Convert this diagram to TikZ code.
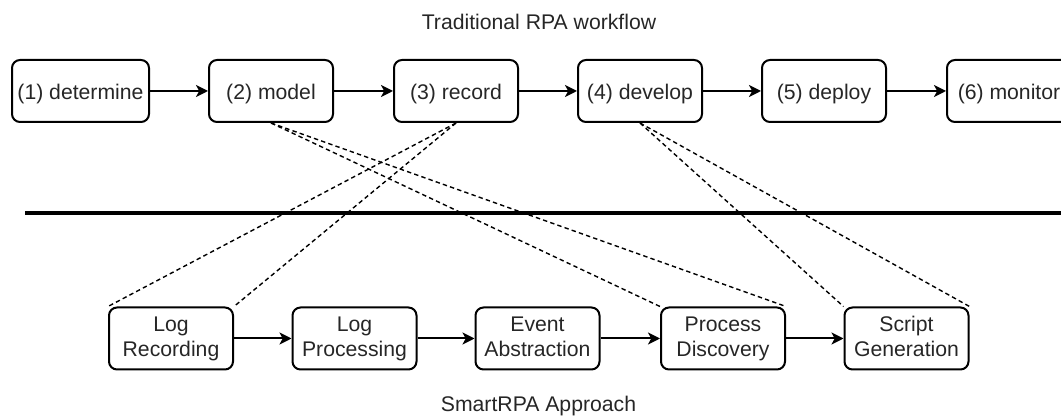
\documentclass[tikz,border=0pt]{standalone}
\usepackage{fontspec}
\setmainfont{Liberation Sans}
\usetikzlibrary{arrows.meta}

\newcommand{\boxstrut}{\rule[-2pt]{0pt}{12.5pt}}

\begin{document}
\begin{tikzpicture}[x=0.5pt,y=-0.5pt,>={Stealth[length=6pt,width=6pt,inset=1.6pt]},
	font=\fontsize{10.6}{12.5}\selectfont,text=black!85,
	stepbox/.style={draw=black,line width=1pt,rounded corners=4pt,minimum width=62pt,
		minimum height=31pt,inner sep=1pt,align=center,
		execute at begin node=\boxstrut,execute at end node=\boxstrut},
	flow/.style={->,line width=1pt},
	link/.style={line width=0.7pt,dash pattern=on 2.2pt off 1.6pt}]

\clip (0,0) rectangle (1061,416);

% upper row
\node (title) at (539,22) {Traditional RPA workflow};

\node[stepbox,minimum width=68.5pt] (determine) at (80.5,91) {(1) determine};
\node[stepbox] (model)   at (271,91)  {(2) model};
\node[stepbox] (record)  at (456,91)  {(3) record};
\node[stepbox] (develop) at (640,91)  {(4) develop};
\node[stepbox] (deploy)  at (824,91)  {(5) deploy};
\node[stepbox] (monitor) at (1009,91) {(6) monitor};

\draw[flow] (determine) -- (model);
\draw[flow] (model)     -- (record);
\draw[flow] (record)    -- (develop);
\draw[flow] (develop)   -- (deploy);
\draw[flow] (deploy)    -- (monitor);

% separator
\coordinate (sepL) at (25,213);
\coordinate (sepR) at (1061,213);
\draw[line width=2pt] (sepL) -- (sepR);

% lower row
\node[stepbox] (logrec)  at (171,338.5)   {Log\\Recording};
\node[stepbox] (logproc) at (354.5,338.5) {Log\\Processing};
\node[stepbox] (abstr)   at (537.5,338.5) {Event\\Abstraction};
\node[stepbox] (discov)  at (723,338.5)   {Process\\Discovery};
\node[stepbox] (script)  at (906.5,338.5) {Script\\Generation};

\draw[flow] (logrec)  -- (logproc);
\draw[flow] (logproc) -- (abstr);
\draw[flow] (abstr)   -- (discov);
\draw[flow] (discov)  -- (script);

\node (caption) at (538.5,406) {SmartRPA Approach};

% correspondences
\draw[link] (model.south)   -- (discov.north west);
\draw[link] (model.south)   -- (discov.north east);
\draw[link] (record.south)  -- (logrec.north west);
\draw[link] (record.south)  -- (logrec.north east);
\draw[link] (develop.south) -- (script.north west);
\draw[link] (develop.south) -- (script.north east);

\end{tikzpicture}
\end{document}
